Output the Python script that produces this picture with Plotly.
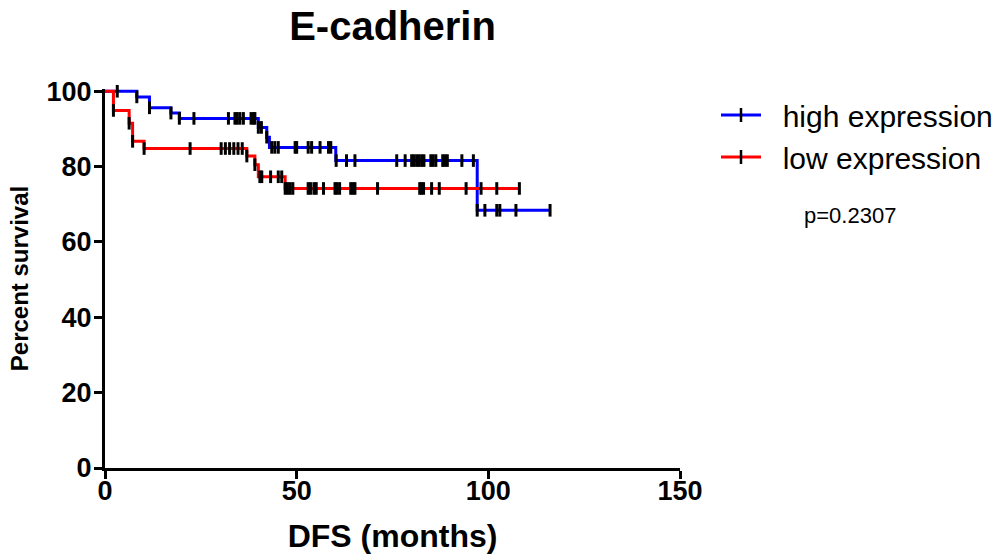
import plotly.graph_objects as go
import numpy as np

# ---- data ----
high_times = [0, 8.3, 11.6, 17.2, 19.4, 40.0, 42.2, 42.9, 60.2, 97.1, 116.1]
high_surv = [100, 98.5, 95.6, 94.2, 92.8, 90.4, 87.8, 85.1, 81.6, 68.4, 68.4]
high_censor = [3.2, 8.3, 11.6, 17.2, 19.4, 23.2, 32.2, 33.9, 34.5, 35.2, 36.1, 38.1, 38.7, 39.1,
               40.0, 40.8, 42.2, 43.5, 44.3, 45.2, 49.6, 50.0, 53.0, 53.9, 56.1, 58.3, 58.9,
               60.3, 63.0, 65.2, 76.1, 78.3, 80.0, 80.6, 81.3, 81.9, 82.6, 83.2, 85.0, 85.6,
               86.3, 88.1, 88.7, 89.3, 93.1, 96.1, 97.1, 99.1, 102.2, 103.0, 107.2, 116.1]

low_times = [0, 2.2, 6.3, 7.2, 10.2, 37.0, 39.1, 40.0, 47.0, 108.1]
low_surv = [100, 94.9, 91.5, 86.7, 84.8, 82.8, 80.5, 77.3, 74.2, 74.2]
low_censor = [2.2, 6.3, 7.2, 10.2, 22.2, 30.3, 31.4, 32.5, 33.6, 34.7, 35.8, 37.0, 39.1, 40.4,
              40.9, 43.2, 45.2, 46.1, 47.0, 47.6, 48.3, 49.0, 53.0, 53.6, 54.5, 55.1, 57.0,
              60.0, 60.5, 61.2, 64.1, 64.7, 65.2, 71.1, 82.1, 82.6, 83.1, 85.2, 87.2, 94.2,
              98.1, 102.2, 108.1]

series_names = ["high expression", "low expression"]
series_colors = ["#0000FF", "#FF0000"]
x_ticks = [0, 50, 100, 150]
y_ticks = [0, 20, 40, 60, 80, 100]
p_text = "p=0.2307"

FONT = "Liberation Sans, Arial, sans-serif"


def step_value(times, surv, t):
    idx = np.searchsorted(np.array(times), t, side="right") - 1
    idx = max(0, min(idx, len(surv) - 1))
    return surv[idx]


fig = go.Figure()

for name, color, times, surv, cens in [
    (series_names[0], series_colors[0], high_times, high_surv, high_censor),
    (series_names[1], series_colors[1], low_times, low_surv, low_censor),
]:
    fig.add_trace(go.Scatter(x=times, y=surv, mode="lines", line=dict(color=color, width=3, shape="hv"),
                             showlegend=False, hoverinfo="skip"))
    fig.add_trace(go.Scatter(x=cens, y=[step_value(times, surv, t) for t in cens], mode="markers",
                             marker=dict(symbol="line-ns", size=9, line=dict(color="black", width=3)),
                             showlegend=False, hoverinfo="skip", cliponaxis=False))
    fig.add_trace(go.Scatter(x=[None], y=[None], mode="lines+markers", name="&nbsp;&nbsp;" + name,
                             line=dict(color=color, width=3),
                             marker=dict(symbol="line-ns", size=10, color="black",
                                         line=dict(color="black", width=2.5))))

axis_common = dict(showline=True, linecolor="black", linewidth=3, ticks="outside", ticklen=8,
                   tickwidth=3, tickcolor="black", showgrid=False, zeroline=False, automargin=False,
                   tickfont=dict(family=FONT, size=27, color="black", weight="bold"))

fig.update_xaxes(range=[0, 150], tickvals=x_ticks, **axis_common, ticklabelstandoff=-11,
                 title=dict(text="<b>DFS (months)</b>", font=dict(family=FONT, size=32, color="black"),
                            standoff=20))
fig.update_yaxes(range=[0, 100.6], tickvals=y_ticks, **axis_common, ticklabelstandoff=-3,
                 title=dict(text="<b>Percent survival</b>", font=dict(family=FONT, size=24, color="black"),
                            standoff=12))

fig.update_layout(
    width=1006, height=557,
    margin=dict(l=105, r=326, t=89, b=89),
    plot_bgcolor="white", paper_bgcolor="white",
    title=dict(text="<b>E-cadherin</b>", x=(105 + 680) / 2 / 1006, xanchor="center", y=1 - 26 / 557,
               yanchor="middle", font=dict(family=FONT, size=40, color="black"), automargin=False),
    legend=dict(xref="container", yref="container", x=716 / 1006, y=1 - 89 / 557,
                xanchor="left", yanchor="top", bgcolor="rgba(0,0,0,0)",
                font=dict(family=FONT, size=30, color="black"), itemwidth=40),
    annotations=[dict(text=p_text, x=1.296, y=0.6675, xref="paper", yref="paper", showarrow=False,
                      xanchor="center", yanchor="middle", font=dict(family=FONT, size=22, color="black"))],
)

fig.write_html("out.html", config={"displayModeBar": False},
               post_script="document.body.style.margin='0';")
